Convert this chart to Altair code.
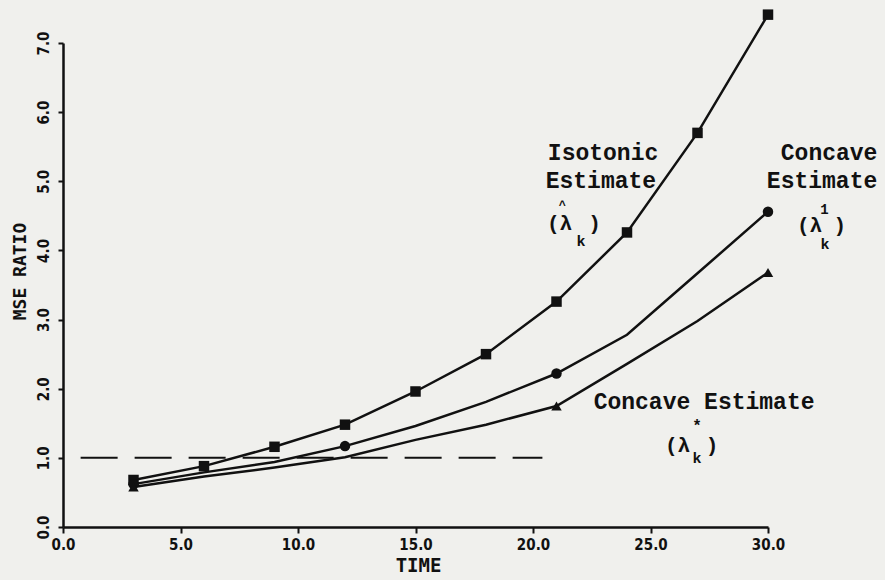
import altair as alt
import pandas as pd

# Simulation results: MSE ratio of three estimators against time
time = [3, 6, 9, 12, 15, 18, 21, 24, 27, 30]
isotonic = [0.68, 0.88, 1.16, 1.48, 1.96, 2.50, 3.26, 4.26, 5.70, 7.41]
concave_1 = [0.62, 0.79, 0.94, 1.17, 1.46, 1.81, 2.22, 2.78, 3.67, 4.56]
concave_star = [0.58, 0.73, 0.86, 1.01, 1.26, 1.48, 1.75, 2.36, 2.98, 3.68]

# which points carry a plotting symbol
isotonic_marked = [True] * 10
concave_1_marked = [True, False, False, True, False, False, True, False, False, True]
concave_star_marked = [True, False, False, False, False, False, True, False, False, True]

series_names = ["isotonic", "concave_1", "concave_star"]
series_shapes = ["square", "circle", "triangle-up"]

x_ticks = [0, 5, 10, 15, 20, 25, 30]
y_ticks = [0, 1, 2, 3, 4, 5, 6, 7]

# reference level MSE ratio = 1
ref_level = 1.0
ref_start, ref_end = 0.75, 20.4

rows = []
for name, vals, marks in [
    ("isotonic", isotonic, isotonic_marked),
    ("concave_1", concave_1, concave_1_marked),
    ("concave_star", concave_star, concave_star_marked),
]:
    for t, v, m in zip(time, vals, marks):
        rows.append({"time": t, "ratio": v, "series": name, "marked": m})
df = pd.DataFrame(rows)

# curve labels, placed in data coordinates
labels = pd.DataFrame([
    {"text": "Isotonic", "x": 22.98, "y": 5.41, "fs": 23},
    {"text": "Estimate", "x": 22.89, "y": 5.00, "fs": 23},
    {"text": "(λ", "x": 21.13, "y": 4.38, "fs": 21},
    {"text": "^", "x": 21.25, "y": 4.66, "fs": 12},
    {"text": "k", "x": 22.04, "y": 4.13, "fs": 15},
    {"text": ")", "x": 22.62, "y": 4.38, "fs": 21},
    {"text": "Concave", "x": 32.60, "y": 5.41, "fs": 23},
    {"text": "Estimate", "x": 32.30, "y": 5.00, "fs": 23},
    {"text": "(λ", "x": 31.77, "y": 4.35, "fs": 21},
    {"text": "1", "x": 32.40, "y": 4.58, "fs": 14},
    {"text": "k", "x": 32.43, "y": 4.10, "fs": 15},
    {"text": ")", "x": 33.06, "y": 4.35, "fs": 21},
    {"text": "Concave Estimate", "x": 27.28, "y": 1.81, "fs": 23},
    {"text": "(λ", "x": 26.15, "y": 1.17, "fs": 21},
    {"text": "*", "x": 26.98, "y": 1.46, "fs": 16},
    {"text": "k", "x": 26.98, "y": 1.00, "fs": 15},
    {"text": ")", "x": 27.62, "y": 1.17, "fs": 21},
])

ref_df = pd.DataFrame({"x": [ref_start], "x2": [ref_end], "y": [ref_level]})

INK = "#111111"
TICK_FONT = "DejaVu Sans Condensed"

x_scale = alt.Scale(domain=[0, 30], nice=False, zero=False)
y_scale = alt.Scale(domain=[0, 7], nice=False, zero=False)

x_axis = alt.Axis(
    values=x_ticks, format=".1f", title="TIME",
    labelFont=TICK_FONT, labelFontWeight="bold", labelFontSize=15, labelColor=INK,
    labelPadding=4, tickSize=6, tickWidth=2, tickColor=INK,
    domainColor=INK, domainWidth=2.5, grid=False, labelFlush=False,
    titleFont="DejaVu Sans Mono", titleFontWeight="bold", titleFontSize=19, titleColor=INK,
    titleX=355, titleY=38, titleBaseline="middle", titleAlign="center",
)
y_axis = alt.Axis(
    values=y_ticks, format=".1f", title="MSE RATIO",
    labelFont=TICK_FONT, labelFontWeight="bold", labelFontSize=15, labelColor=INK,
    labelAngle=270, labelAlign="center", labelBaseline="bottom", labelPadding=7,
    tickSize=5, tickWidth=2, tickColor=INK, labelFlush=False,
    domainColor=INK, domainWidth=2.5, grid=False,
    titleFont="DejaVu Sans Mono", titleFontWeight="bold", titleFontSize=18, titleColor=INK,
    titleAngle=270, titleX=-43, titleY=228, titleAlign="center", titleBaseline="middle",
)

base = alt.Chart(df)

lines = base.mark_line(color=INK, strokeWidth=2.5).encode(
    x=alt.X("time:Q", scale=x_scale, axis=x_axis),
    y=alt.Y("ratio:Q", scale=y_scale, axis=y_axis),
    detail="series:N",
)

points = base.transform_filter("datum.marked").mark_point(
    filled=True, color=INK, opacity=1, size=110
).encode(
    x=alt.X("time:Q", scale=x_scale),
    y=alt.Y("ratio:Q", scale=y_scale),
    shape=alt.Shape("series:N", scale=alt.Scale(domain=series_names, range=series_shapes), legend=None),
)

ref = alt.Chart(ref_df).mark_rule(color=INK, strokeWidth=2, strokeDash=[37, 17]).encode(
    x=alt.X("x:Q", scale=x_scale),
    x2="x2:Q",
    y=alt.Y("y:Q", scale=y_scale),
)

text = alt.Chart(labels).mark_text(
    font="Liberation Mono", fontWeight="bold", color=INK, align="center", baseline="middle"
).encode(
    x=alt.X("x:Q", scale=x_scale),
    y=alt.Y("y:Q", scale=y_scale),
    text="text:N",
    size=alt.Size("fs:Q", scale=None, legend=None),
)

chart = alt.layer(ref, lines, points, text).properties(
    width=705,
    height=484,
    padding={"left": 63, "top": 43, "right": 117, "bottom": 53},
    autosize=alt.AutoSizeParams(type="none"),
    background="#f0f0ed",
).configure_view(stroke=None)

chart.save("out.html", embed_options={"renderer": "svg", "actions": False})
